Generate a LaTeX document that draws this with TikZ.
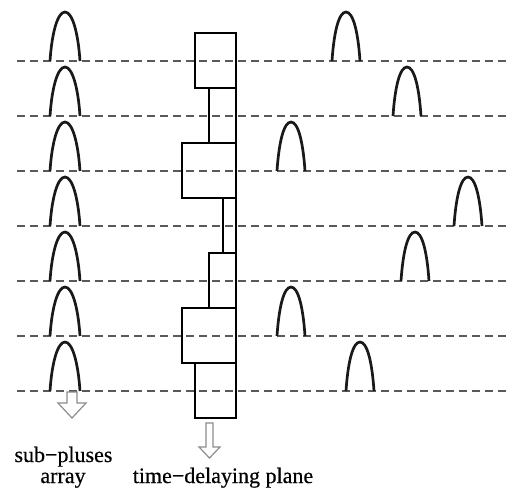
\documentclass[tikz,border=0pt]{standalone}
\usepackage{fontspec}
\setmainfont{Liberation Serif}[FakeBold=0.4]
\begin{document}
\begin{tikzpicture}[x=1pt,y=-1pt,
  guide/.style={draw=black!65,line width=1.7pt,dash pattern=on 8pt off 5pt},
  pulse/.style={draw=black!90,line width=2.7pt},
  plate/.style={draw=black,line width=1.8pt},
  hollow/.style={draw=black!45,line width=1.2pt,fill=white},
  lbl/.style={font=\fontsize{22}{24}\selectfont,inner sep=0pt,anchor=base}]
\useasboundingbox (0,0) rectangle (506,488);
% guide lines
\foreach \y in {61,116,171,226,281,336,391}
  \draw[guide] (17,\y) -- (506,\y);
% left pulses (sub-pulses array)
\foreach \y in {61,116,171,226,281,336,391}
  \draw[pulse] (50,\y) .. controls (52,\y-30) and (58,\y-49) .. (65,\y-49)
                       .. controls (72,\y-49) and (78,\y-30) .. (80,\y);
% delayed pulses
\foreach \cx/\y in {346/61,407/116,291/171,468/226,415/281,291/336,360/391}
  \draw[pulse] (\cx-14,\y) .. controls (\cx-12,\y-30) and (\cx-7,\y-49) .. (\cx,\y-49)
                          .. controls (\cx+7,\y-49) and (\cx+12,\y-30) .. (\cx+14,\y);
% time-delaying plane
\draw[plate] (195,33) rectangle (236,88);
\draw[plate] (209,88) rectangle (236,143);
\draw[plate] (182,143) rectangle (236,198);
\draw[plate] (223,198) rectangle (236,253);
\draw[plate] (209,253) rectangle (236,308);
\draw[plate] (182,308) rectangle (236,363);
\draw[plate] (195,363) rectangle (236,418);
% hollow arrows
\draw[hollow] (67,392) -- (77,392) -- (77,403) -- (86,403) -- (72,418) -- (58,403) -- (67,403) -- cycle;
\draw[hollow] (206,423) -- (213,423) -- (213,447) -- (220,447) -- (209.5,458) -- (199,447) -- (206,447) -- cycle;
% labels
\node[lbl] (sub) at (63.5,462) {sub−pluses};
\node[lbl] (arr) at (63,483) {array};
\node[lbl] (tdp) at (223,483) {time−delaying plane};
\end{tikzpicture}
\end{document}
